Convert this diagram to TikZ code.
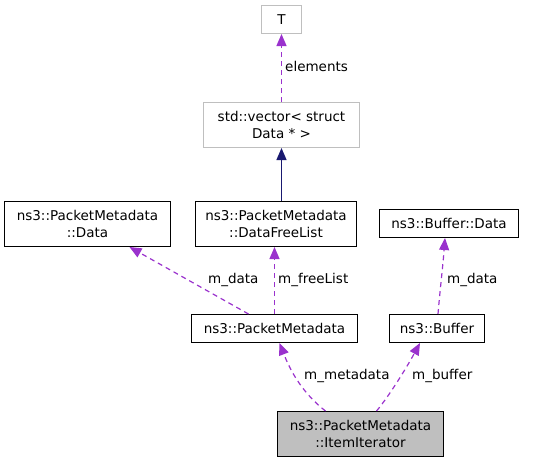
\documentclass[tikz,border=0pt]{standalone}
\usepackage{fontspec}
\setmainfont{DejaVu Sans}
\usetikzlibrary{arrows.meta}
\definecolor{edgepurple}{HTML}{9A32CD}
\definecolor{edgenavy}{HTML}{191970}
\definecolor{boxgrey}{HTML}{BFBFBF}
\tikzset{
  x=1pt, y=-1pt,
  every node/.style={font=\fontsize{13.5}{17.3}\selectfont, inner sep=0pt, align=center},
  cls/.style={draw=black, line width=1pt, fill=white},
  ext/.style={draw=boxgrey, line width=1pt, fill=white},
  cur/.style={draw=black, line width=1pt, fill=boxgrey},
  member/.style={color=edgepurple, line width=1.2pt, dash pattern=on 5pt off 4pt,
    -{Triangle[length=12pt,width=10pt]}},
  inherit/.style={color=edgenavy, line width=1.2pt,
    -{Triangle[length=12pt,width=10pt]}},
  lbl/.style={anchor=west, text=black},
}
\begin{document}
\begin{tikzpicture}
\useasboundingbox (0,0) rectangle (536,464);
% nodes
\node[ext, minimum width=40pt, minimum height=28pt] (T) at (281.5,19.5) {T};
\node[ext, minimum width=156pt, minimum height=45pt] (vec) at (281.5,125) {std::vector< struct\\Data * >};
\node[cls, minimum width=161pt, minimum height=45pt] (dfl) at (276,224) {ns3::PacketMetadata\\::DataFreeList};
\node[cls, minimum width=166pt, minimum height=45pt] (pmd) at (87.5,224) {ns3::PacketMetadata\\::Data};
\node[cls, minimum width=139pt, minimum height=28pt] (bd) at (449,223.5) {ns3::Buffer::Data};
\node[cls, minimum width=166pt, minimum height=28pt] (pm) at (274.5,328.5) {ns3::PacketMetadata};
\node[cls, minimum width=95pt, minimum height=28pt] (buf) at (437,328.5) {ns3::Buffer};
\node[cur, minimum width=166pt, minimum height=45pt] (it) at (360.5,434) {ns3::PacketMetadata\\::ItemIterator};
% edges
\draw[member] (vec.north) -- (T.south);
\node[lbl] (lelem) at (285,66) {elements};
\draw[inherit] (dfl.north -| vec.south) -- (vec.south);
\draw[member] ([xshift=-26pt]pm.north) -- ([xshift=42pt]pmd.south);
\node[lbl] (lmdata) at (208,280) {m\_data};
\draw[member] (pm.north) -- (dfl.south -| pm.north);
\node[lbl] (lfree) at (278,280) {m\_freeList};
\draw[member] ([xshift=1pt]buf.north) .. controls (440,290) and (443,265) .. ([xshift=-4pt]bd.south);
\node[lbl] (lbdata) at (447,280) {m\_data};
\draw[member] ([xshift=-35pt]it.north) .. controls (305,395) and (292,375) .. ([xshift=5pt]pm.south);
\node[lbl] (lmeta) at (304,376) {m\_metadata};
\draw[member] ([xshift=16pt]it.north) .. controls (390,395) and (408,365) .. ([xshift=-17pt]buf.south);
\node[lbl] (lbuf) at (412,376) {m\_buffer};
\end{tikzpicture}
\end{document}
